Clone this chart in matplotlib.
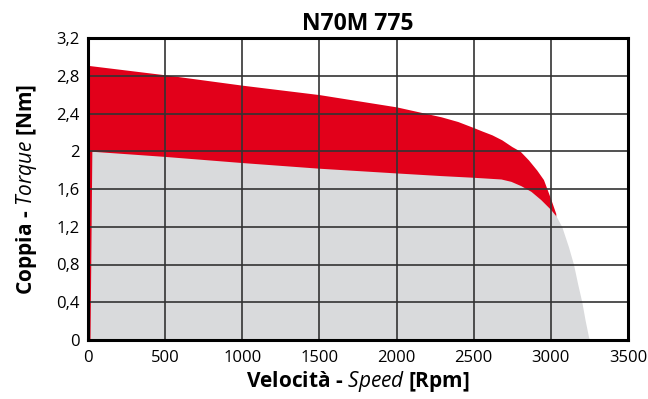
import matplotlib.pyplot as plt
import numpy as np

# valori
red_rpm    = [0, 500, 1000, 1500, 2000, 2289, 2397, 2500, 2553, 2618, 2682, 2747,
              2801, 2855, 2909, 2952, 2975, 3000, 3032]
red_torque = [2.91, 2.81, 2.70, 2.60, 2.47, 2.365, 2.315, 2.25, 2.215, 2.174, 2.121, 2.05,
              2.0, 1.908, 1.80, 1.70, 1.60, 1.49, 1.34]

gray_rpm    = [0, 13, 25, 500, 1000, 1500, 2000, 2289, 2500, 2677, 2741, 2806,
               2871, 2935, 3000, 3035, 3071, 3114, 3147, 3173, 3201, 3222, 3244, 3251]
gray_torque = [0, 0, 2.0, 1.945, 1.88, 1.82, 1.77, 1.742, 1.724, 1.706, 1.681, 1.635,
               1.575, 1.487, 1.381, 1.31, 1.2, 0.988, 0.8, 0.6, 0.4, 0.21, 0.035, 0]

xticks = [0, 500, 1000, 1500, 2000, 2500, 3000, 3500]
yticks = [0, 0.4, 0.8, 1.2, 1.6, 2.0, 2.4, 2.8, 3.2]
ytick_labels = ['0', '0,4', '0,8', '1,2', '1,6', '2', '2,4', '2,8', '3,2']

title  = 'N70M 775'
xlabel = r'Velocità - $\mathit{Speed}$ [Rpm]'
ylabel = r'Coppia - $\mathit{Torque}$ [Nm]'

red_col  = '#e2001a'
gray_col = '#d9dadc'

plt.rcParams['font.family'] = ['Open Sans', 'DejaVu Sans']
plt.rcParams['mathtext.fontset'] = 'custom'
plt.rcParams['mathtext.rm'] = 'Open Sans'
plt.rcParams['mathtext.it'] = 'Open Sans:italic'
plt.rcParams['mathtext.bf'] = 'Open Sans:bold'

fig = plt.figure(figsize=(6.48, 3.99), dpi=100)
ax = fig.add_axes([88/648, 59/399, 540/648, 302/399])

ax.fill_between(red_rpm, 0, red_torque, color=red_col, lw=0, zorder=1)
ax.fill_between(gray_rpm, 0, gray_torque, color=gray_col, lw=0, zorder=2)

ax.set_xlim(0, 3500)
ax.set_ylim(0, 3.2)
ax.set_xticks(xticks)
ax.set_yticks(yticks)
ax.set_yticklabels(ytick_labels)
ax.tick_params(length=0, labelsize=12, pad=6)
ax.tick_params(axis='x', pad=7)
ax.grid(True, color='#333333', lw=1.2, zorder=3)
ax.set_axisbelow(False)

for s in ax.spines.values():
    s.set_linewidth(2.2)
    s.set_color('black')
    s.set_zorder(5)

ax.set_title(title, fontsize=16.5, fontweight='bold', pad=6)
ax.set_xlabel(xlabel, fontsize=15, fontweight='bold', labelpad=2)
ax.set_ylabel(ylabel, fontsize=15, fontweight='bold', labelpad=12)

fig.savefig('out.png', dpi=100)
